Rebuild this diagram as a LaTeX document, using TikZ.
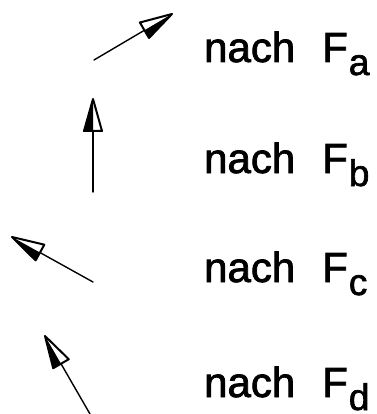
\documentclass[tikz,border=0pt]{standalone}
\usepackage{fontspec}
\setmainfont[FakeBold=1.8]{Liberation Sans}
\usetikzlibrary{calc}
\tikzset{
  shaft/.style={line width=1.4pt, line cap=round},
  headline/.style={line width=2pt, line join=round},
  lbl/.style={anchor=base west, inner sep=0pt, font=\fontsize{42}{50}\selectfont},
}
% #1 tail, #2 tip, #3 side of filled half (90 = left, -90 = right)
\newcommand\halfarrow[3]{%
  \coordinate (#2-m) at ($(#2)!32pt!(#1)$);
  \coordinate (#2-l) at ($(#2-m)!9pt!90:(#2)$);
  \coordinate (#2-r) at ($(#2-m)!9pt!-90:(#2)$);
  \coordinate (#2-s) at ($(#2-m)!9pt!#3:(#2)$);
  \fill (#2) -- (#2-m) -- (#2-s) -- cycle;
  \draw[headline] (#2) -- (#2-l) -- (#2-r) -- cycle;
  \draw[shaft] (#1) -- (#2-m);
}
\newcommand\subsc[1]{\kern1pt\raisebox{-13pt}{\fontsize{37}{40}\selectfont #1}}
\begin{document}
\begin{tikzpicture}[x=1pt,y=-1pt]
\useasboundingbox (0,0) rectangle (376,414);
\coordinate (ta) at (94,60);  \coordinate (pa) at (172,14);
\coordinate (tb) at (93,192); \coordinate (pb) at (93,99);
\coordinate (tc) at (93,282); \coordinate (pc) at (12,237);
\coordinate (td) at (90,414); \coordinate (pd) at (45,336);
\halfarrow{ta}{pa}{-90}
\halfarrow{tb}{pb}{90}
\halfarrow{tc}{pc}{90}
\halfarrow{td}{pd}{90}
\node[lbl] (na) at (204,62)  {nach};
\node[lbl] (fa) at (322,62)  {F\subsc{a}};
\node[lbl] (nb) at (204,173) {nach};
\node[lbl] (fb) at (322,173) {F\subsc{b}};
\node[lbl] (nc) at (204,282) {nach};
\node[lbl] (fc) at (322,282) {F\subsc{c}};
\node[lbl] (nd) at (204,397) {nach};
\node[lbl] (fd) at (322,397) {F\subsc{d}};
\end{tikzpicture}
\end{document}
